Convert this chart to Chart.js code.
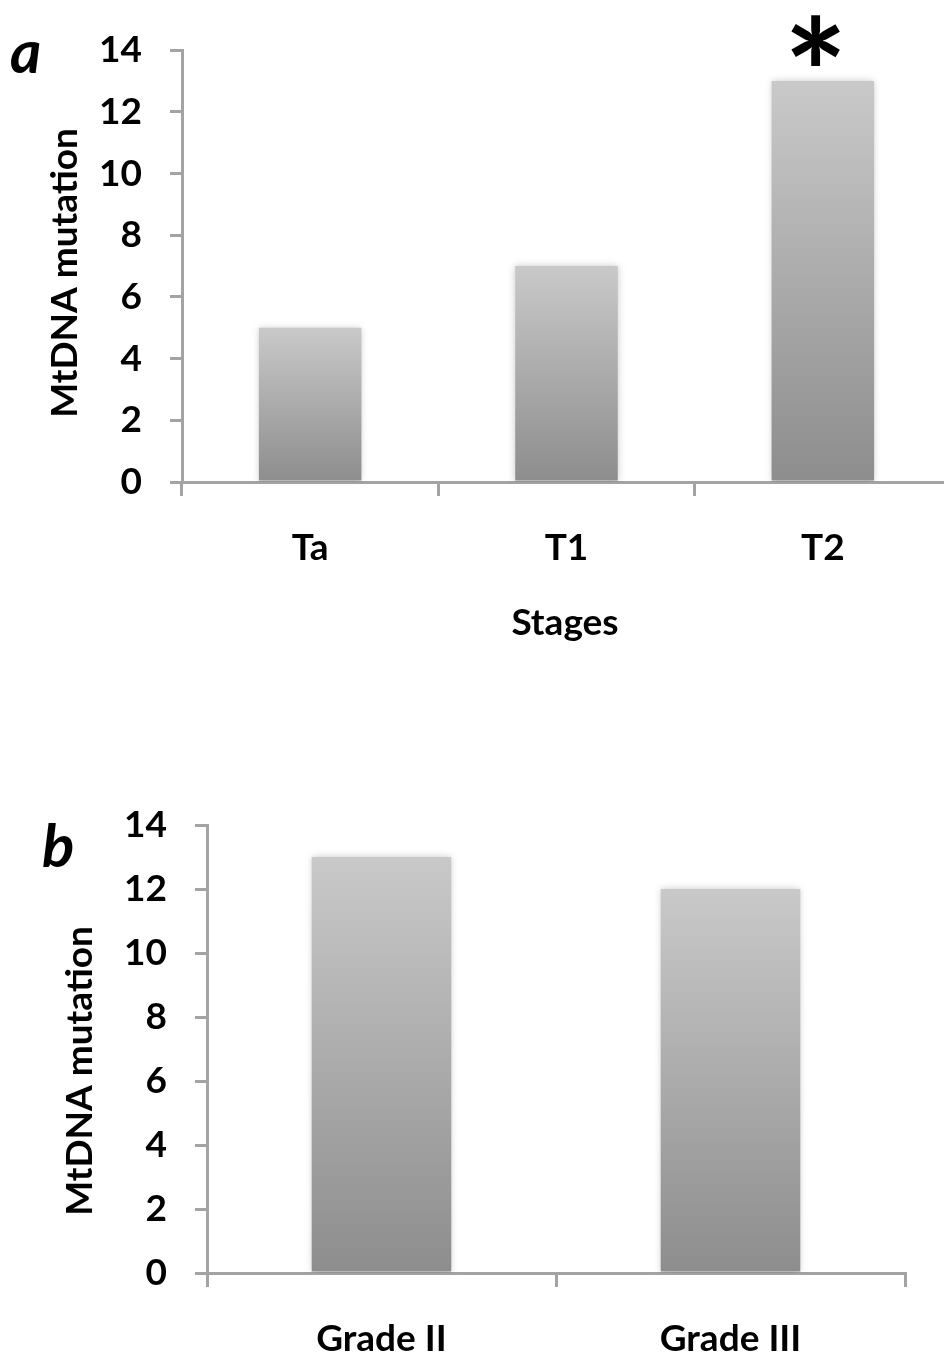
<!DOCTYPE html>
<html lang="en">
<head>
    <meta charset="UTF-8">
    <title>MtDNA mutation by stage and grade</title>
    <script src="https://cdn.jsdelivr.net/npm/chart.js"></script>
    <style>
        html, body {
            margin: 0;
            padding: 0;
            background: #fff;
            overflow: hidden;
            width: 944px;
            height: 1361px;
        }
        .panel {
            position: absolute;
            left: 0;
        }
        #panelA { top: 0; width: 960px; height: 700px; }
        #panelB { top: 700px; width: 944px; height: 661px; }
    </style>
</head>
<body>

    <div class="panel" id="panelA"><canvas id="chartA"></canvas></div>
    <div class="panel" id="panelB"><canvas id="chartB"></canvas></div>

    <script>
        // chart data
        const stages = ['Ta', 'T1', 'T2'];
        const stageMutations = [5, 7, 13];
        const grades = ['Grade II', 'Grade III'];
        const gradeMutations = [13, 12];
        const yTicks = [0, 2, 4, 6, 8, 10, 12, 14];
        const yTitle = 'MtDNA mutation';

        const FONT = 'Lato, "Open Sans", sans-serif';
        const AXIS_GREY = '#a3a3a3';

        // gradient for each bar, light at the top and dark at the base
        function barGradient(context) {
            const chart = context.chart;
            const y = chart.scales.y;
            if (!y || context.raw === undefined) return '#aaa';
            const top = y.getPixelForValue(context.raw);
            const bottom = y.getPixelForValue(0);
            if (!isFinite(top) || !isFinite(bottom)) return '#aaa';
            const g = chart.ctx.createLinearGradient(0, top, 0, bottom);
            g.addColorStop(0, '#c9c9c9');
            g.addColorStop(1, '#8d8d8d');
            return g;
        }

        // soft shadow around the bars
        const barShadow = {
            id: 'barShadow',
            beforeDatasetsDraw(chart) {
                const ctx = chart.ctx;
                ctx.save();
                ctx.shadowColor = 'rgba(0,0,0,0.22)';
                ctx.shadowBlur = 7;
            },
            afterDatasetsDraw(chart) {
                chart.ctx.restore();
            }
        };

        // panel letter, y title, x title and significance star
        const extraText = {
            id: 'extraText',
            afterDraw(chart, args, o) {
                const ctx = chart.ctx;
                ctx.save();
                ctx.fillStyle = '#000';

                // panel letter
                ctx.font = 'italic bold 60px ' + FONT;
                ctx.textAlign = 'left';
                ctx.textBaseline = 'alphabetic';
                ctx.fillText(o.letter, o.letterX, o.letterY);

                // y axis title
                ctx.save();
                ctx.translate(o.yTitleX, o.yTitleY);
                ctx.rotate(-Math.PI / 2);
                ctx.font = 'bold 37px ' + FONT;
                ctx.textAlign = 'center';
                ctx.textBaseline = 'middle';
                ctx.fillText(yTitle, 0, 0);
                ctx.restore();

                // x axis title
                if (o.xTitle) {
                    ctx.font = 'bold 37px ' + FONT;
                    ctx.textAlign = 'center';
                    ctx.textBaseline = 'middle';
                    ctx.fillText(o.xTitle, o.xTitleX, o.xTitleY);
                }

                // star above a bar, glyph box centred on (bar.x, bar.y - 41)
                if (o.starIndex !== undefined) {
                    const bar = chart.getDatasetMeta(0).data[o.starIndex];
                    ctx.font = 'bold 150px ' + FONT;
                    ctx.textAlign = 'left';
                    ctx.textBaseline = 'alphabetic';
                    const m = ctx.measureText('*');
                    const left = m.actualBoundingBoxLeft, right = m.actualBoundingBoxRight;
                    const asc = m.actualBoundingBoxAscent, desc = m.actualBoundingBoxDescent;
                    const gx = bar.x - (right - left) / 2 + left;
                    const gy = bar.y - 41 + (asc - desc) / 2;
                    ctx.fillText('*', gx, gy);
                }
                ctx.restore();
            }
        };

        function makeChart(id, labels, values, cfg) {
            const ctx = document.getElementById(id).getContext('2d');
            return new Chart(ctx, {
                type: 'bar',
                data: {
                    labels: labels,
                    datasets: [{
                        data: values,
                        backgroundColor: barGradient,
                        borderWidth: 0,
                        barPercentage: 0.4,
                        categoryPercentage: 1
                    }]
                },
                options: {
                    responsive: true,
                    maintainAspectRatio: false,
                    animation: false,
                    devicePixelRatio: 1,
                    layout: {
                        padding: cfg.padding
                    },
                    plugins: {
                        legend: { display: false },
                        tooltip: { enabled: false },
                        extraText: cfg.text
                    },
                    scales: {
                        x: {
                            grid: {
                                offset: true,
                                drawOnChartArea: false,
                                color: AXIS_GREY,
                                lineWidth: 3,
                                tickLength: 14
                            },
                            border: { color: AXIS_GREY, width: 3 },
                            ticks: {
                                color: '#000',
                                padding: 30,
                                font: { family: FONT, size: 37, weight: 'bold' }
                            },
                            afterFit(scale) { scale.height = cfg.xHeight; }
                        },
                        y: {
                            min: yTicks[0],
                            max: yTicks[yTicks.length - 1],
                            afterBuildTicks(scale) {
                                scale.ticks = yTicks.map(v => ({ value: v }));
                            },
                            grid: {
                                drawOnChartArea: false,
                                color: AXIS_GREY,
                                lineWidth: 3,
                                tickLength: 12
                            },
                            border: { color: AXIS_GREY, width: 3 },
                            ticks: {
                                color: '#000',
                                padding: 28,
                                font: { family: FONT, size: 37, weight: 'bold' }
                            },
                            afterFit(scale) { scale.width = cfg.yWidth; }
                        }
                    }
                },
                plugins: [barShadow, extraText]
            });
        }

        makeChart('chartA', stages, stageMutations, {
            padding: { top: 46, left: 0, right: 9, bottom: 0 },
            yWidth: 182,
            xHeight: 700 - 482,
            text: {
                letter: 'a', letterX: 10, letterY: 73,
                yTitleX: 65, yTitleY: 273,
                xTitle: 'Stages', xTitleX: 565, xTitleY: 623,
                starIndex: 2
            }
        });

        makeChart('chartB', grades, gradeMutations, {
            padding: { top: 125, left: 0, right: 39, bottom: 0 },
            yWidth: 207,
            xHeight: 661 - 573,
            text: {
                letter: 'b', letterX: 42, letterY: 167,
                yTitleX: 80, yTitleY: 371
            }
        });
    </script>
</body>
</html>
